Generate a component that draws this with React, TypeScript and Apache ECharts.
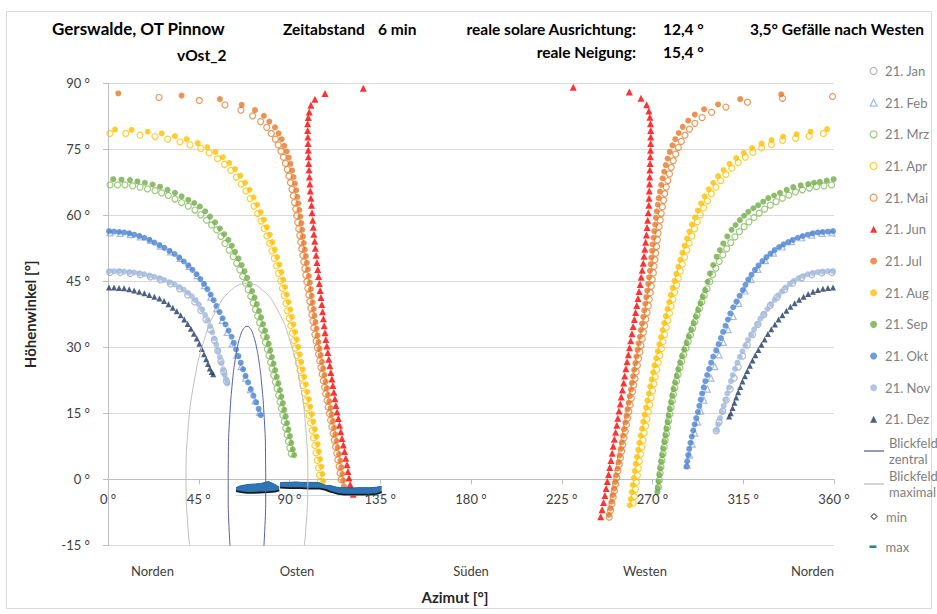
import React, { useEffect, useRef } from "react";
import * as echarts from "echarts";

const FONT = "Lato, 'Noto Sans', sans-serif";

const monthNames = ["21. Jan", "21. Feb", "21. Mrz", "21. Apr", "21. Mai", "21. Jun", "21. Jul", "21. Aug", "21. Sep", "21. Okt", "21. Nov", "21. Dez"];
const compassLabels = ["Norden", "Osten", "Süden", "Westen", "Norden"];

const janLeft = [[1,47.0],[6,47.0],[11,46.8],[16,46.5],[21,46.0],[26,45.3],[31,44.4],[35.5,43.3],[39.5,41.9],[43,40.3],[46,38.4],[48.6,36.3],[50.8,34.0],[52.7,31.6],[54.4,29.2],[56,26.8],[57.4,24.4],[58.8,22.2]];
const janRight = [[359,47.0],[354,46.9],[349,46.5],[344,45.8],[339.5,44.6],[335.5,43.1],[331.8,41.4],[328.4,39.5],[325.2,37.4],[322.3,35.2],[319.6,32.9],[317,30.5],[314.7,28.0],[312.5,25.5],[310.5,23],[308.5,20.5],[306.6,18.0],[304.8,15.5],[303.0,13.0],[301.6,11.0]];

const febLeft = [[1,56.0],[6,55.9],[11,55.6],[16,55.1],[21,54.3],[26,53.0],[31,51.7],[35.8,50.2],[40.2,48.4],[44.2,46.3],[47.8,44.0],[51,41.4],[53.9,38.8],[56.6,36.1],[59.1,33.4],[61.6,30.8],[63.8,28.2],[66,25.6],[68.3,23.0],[70.6,20.4],[72.9,17.8],[75.1,15.2]];
const febRight = [[359,56.0],[354,55.9],[349,55.5],[344,54.9],[339,54.0],[334.3,52.8],[330,51.4],[326,49.7],[322.3,47.7],[318.9,45.4],[315.8,42.8],[312.8,40.0],[310,37.0],[307.5,34.0],[305.2,31.1],[303,28.3],[300.9,25.6],[299,23],[297.2,20.5],[295.5,18],[293.9,15.5],[292.4,13],[291,10.5],[289.7,8],[288.4,5.5],[287.2,3.2]];

const mrzLeft = [[1.0,66.9],[4.7,66.9],[8.4,66.9],[12.2,66.7],[15.9,66.4],[19.6,66.0],[23.3,65.6],[26.6,65.1],[29.9,64.5],[33.2,63.7],[36.5,62.9],[39.8,62.1],[43.1,61.2],[46.0,60.1],[48.9,58.9],[51.4,57.8],[53.9,56.7],[56.0,55.2],[58.0,53.6],[60.1,52.1],[62.1,50.6],[63.8,49.1],[65.4,47.6],[66.8,46.1],[68.2,44.6],[69.5,43.1],[70.8,41.6],[72.0,40.1],[73.1,38.6],[74.2,37.1],[75.2,35.6],[76.2,34.1],[77.2,32.6],[78.1,31.1],[79.0,29.6],[79.8,28.1],[80.6,26.6],[81.4,25.1],[82.2,23.6],[83.0,22.1],[83.8,20.6],[84.6,19.1],[85.3,17.6],[86.0,16.1],[86.7,14.6],[87.4,13.1],[88.1,11.6],[88.8,10.1],[89.5,8.6],[90.2,7.1],[90.9,5.8]];
const mrzRight = [[358.8,66.9],[355.0,66.7],[351.3,66.5],[347.8,66.2],[344.3,65.8],[340.9,65.3],[337.6,64.6],[334.4,63.9],[331.3,63.1],[328.4,62.3],[325.6,61.4],[322.9,60.5],[320.3,59.5],[317.8,58.5],[315.4,57.4],[313.1,56.3],[310.9,55.1],[308.8,53.8],[306.8,52.4],[304.9,51.0],[303.1,49.5],[301.4,48.0],[299.8,46.5],[298.4,44.9],[297.0,43.3],[295.7,41.8],[294.5,40.3],[293.3,38.8],[292.1,37.3],[291.0,35.8],[289.9,34.3],[288.8,32.8],[287.7,31.3],[286.6,29.8],[285.5,28.3],[284.5,26.8],[283.6,25.3],[282.7,23.8],[281.9,22.3],[281.1,20.8],[280.4,19.3],[279.8,17.8],[279.2,16.3],[278.6,14.8],[278.0,13.3],[277.4,11.8],[276.9,10.3],[276.3,8.8],[275.8,7.3],[275.2,5.8],[274.7,4.3],[274.2,2.8],[273.8,1.3],[273.4,-0.2],[273.0,-1.8]];

const aprLeft = [[1.0,78.6],[8.8,78.6],[15.9,78.2],[23.3,77.9],[29.6,77.3],[35.7,76.7],[40.7,76.0],[46.0,75.2],[50.2,74.2],[54.3,72.9],[57.8,71.6],[60.9,70.2],[63.6,68.7],[66.1,67.1],[68.4,65.5],[70.5,63.8],[72.4,62.1],[74.2,60.4],[75.9,58.7],[77.4,57.0],[78.8,55.3],[80.1,53.6],[81.3,51.9],[82.5,50.2],[83.6,48.5],[84.6,46.8],[85.6,45.1],[86.5,43.4],[87.4,41.7],[88.2,40.0],[89.0,38.3],[89.8,36.6],[90.6,34.9],[91.4,33.2],[92.2,31.5],[92.9,29.8],[93.7,28.1],[94.4,26.4],[95.2,24.7],[95.9,23.0],[96.7,21.3],[97.4,19.6],[98.2,17.9],[98.9,16.2],[99.7,14.5],[100.4,12.8],[101.2,11.1],[101.9,9.4],[102.6,7.7],[103.2,6.0],[103.8,4.3],[104.4,2.6],[104.9,0.9],[105.3,-0.6]];
const aprRight = [[354.7,78.6],[347.7,78.0],[341.0,77.5],[334.5,77.0],[329.0,76.1],[324.1,75.3],[319.8,74.3],[316.0,73.2],[312.5,72.0],[309.3,70.7],[306.4,69.3],[303.8,67.9],[301.4,66.4],[299.2,64.9],[297.2,63.3],[295.4,61.7],[293.7,60.1],[292.2,58.5],[290.8,56.9],[289.5,55.3],[288.2,53.7],[287.0,52.1],[285.9,50.5],[284.8,48.9],[283.8,47.3],[282.8,45.7],[281.9,44.1],[281.0,42.5],[280.1,40.9],[279.2,39.3],[278.4,37.7],[277.6,36.1],[276.8,34.5],[276.0,32.9],[275.2,31.3],[274.4,29.7],[273.6,28.1],[272.8,26.5],[272.1,24.9],[271.4,23.3],[270.7,21.7],[270.0,20.1],[269.3,18.5],[268.6,16.9],[267.9,15.3],[267.2,13.7],[266.6,12.1],[265.9,10.5],[265.3,8.9],[264.7,7.3],[264.1,5.7],[263.5,4.1],[263.0,2.5],[262.5,0.9],[262.0,-0.7],[261.5,-2.3],[261.0,-3.9],[260.5,-5.4]];

const maiLeft = [[25.3,86.8],[45.3,86.1],[58.0,85.1],[65.9,83.9],[71.7,82.6],[75.7,81.3],[78.7,80.0],[81.0,78.6],[83.0,77.3],[84.4,76.0],[85.8,74.6],[87.0,73.2],[88.0,71.8],[88.9,70.4],[89.7,68.9],[90.5,67.4],[91.2,65.9],[91.9,64.4],[92.5,62.9],[93.1,61.4],[93.6,59.9],[94.1,58.4],[94.6,56.9],[95.1,55.4],[95.6,53.9],[96.1,52.4],[96.6,50.9],[97.1,49.4],[97.6,47.9],[98.1,46.4],[98.6,44.9],[99.1,43.4],[99.6,41.9],[100.1,40.4],[100.6,38.9],[101.1,37.4],[101.6,35.9],[102.1,34.4],[102.6,32.9],[103.2,31.4],[103.8,29.9],[104.4,28.4],[105.0,26.9],[105.6,25.4],[106.2,23.9],[106.8,22.4],[107.4,20.9],[108.0,19.4],[108.6,17.9],[109.2,16.4],[109.8,14.9],[110.4,13.4],[111.0,11.9],[111.6,10.4],[112.2,8.9],[112.8,7.4],[113.4,5.9],[114.0,4.4],[114.6,2.9],[115.1,1.4],[115.6,-0.1]];
const maiRight = [[359.3,87.0],[334.5,86.6],[317.1,85.7],[306.4,84.6],[299.3,83.4],[294.6,82.2],[291.0,80.9],[288.3,79.6],[286.1,78.2],[284.3,76.8],[282.8,75.4],[281.5,73.9],[280.3,72.4],[279.3,70.9],[278.4,69.4],[277.6,67.9],[276.8,66.4],[276.1,64.9],[275.5,63.4],[274.9,61.9],[274.3,60.4],[273.8,58.9],[273.3,57.4],[272.8,55.9],[272.4,54.4],[272.0,52.9],[271.6,51.4],[271.2,49.9],[270.8,48.4],[270.4,46.9],[269.9,45.4],[269.4,43.9],[268.9,42.4],[268.4,40.9],[267.9,39.4],[267.3,37.9],[266.7,36.4],[266.1,34.9],[265.5,33.4],[264.9,31.9],[264.3,30.4],[263.7,28.9],[263.1,27.4],[262.5,25.9],[261.9,24.4],[261.3,22.9],[260.7,21.4],[260.1,19.9],[259.5,18.4],[258.9,16.9],[258.3,15.4],[257.7,13.9],[257.1,12.4],[256.5,10.9],[255.9,9.4],[255.3,7.9],[254.7,6.4],[254.1,4.9],[253.5,3.4],[252.9,1.9],[252.3,0.4],[251.7,-1.1],[251.1,-2.6],[250.5,-4.1],[249.9,-5.6],[249.2,-7.1],[248.5,-8.6]];

const junLeft = [[126.6,88.9],[107.6,87.7],[102.6,86.4],[100.6,85.0],[99.8,83.5],[99.3,82.2],[99.0,80.8],[99.0,79.3],[99.1,77.8],[99.2,76.3],[99.3,74.8],[99.4,73.3],[99.5,71.8],[99.7,70.3],[99.9,68.7],[100.1,67.1],[100.3,65.5],[100.6,63.9],[100.9,62.3],[101.2,60.6],[101.5,58.9],[101.8,57.3],[102.1,55.7],[102.5,54.1],[102.8,52.5],[103.2,50.9],[103.6,49.3],[104.0,47.7],[104.4,46.1],[104.8,44.5],[105.2,42.9],[105.6,41.3],[106.0,39.7],[106.4,38.1],[106.8,36.5],[107.2,34.9],[107.6,33.3],[108.0,31.8],[108.5,30.3],[109.0,28.8],[109.5,27.3],[110.0,25.8],[110.5,24.3],[111.0,22.8],[111.5,21.3],[112.0,19.8],[112.5,18.3],[113.0,16.8],[113.6,15.3],[114.2,13.8],[114.8,12.3],[115.4,10.8],[116.0,9.3],[116.7,7.8],[117.3,6.3],[117.9,4.8],[118.5,3.3],[119.0,1.8],[119.5,0.3],[120.1,-1.2],[120.8,-2.3],[121.6,-3.4]];
const junRight = [[230.7,89.1],[258.5,88.0],[264.3,86.6],[267.1,85.1],[268.2,83.7],[268.7,82.3],[269.0,80.8],[269.1,79.3],[269.1,77.8],[269.1,76.3],[269.0,74.8],[268.9,73.3],[268.8,71.8],[268.7,70.3],[268.6,68.7],[268.5,67.1],[268.4,65.5],[268.3,63.9],[268.2,62.3],[267.9,60.6],[267.6,58.9],[267.3,57.2],[267.0,55.5],[266.6,53.9],[266.2,52.3],[265.8,50.7],[265.4,49.1],[264.9,47.5],[264.4,45.9],[263.9,44.3],[263.3,42.7],[262.8,41.1],[262.2,39.5],[261.6,37.9],[261.0,36.3],[260.4,34.7],[259.8,33.1],[259.2,31.5],[258.6,29.9],[258.0,28.3],[257.4,26.7],[256.8,25.1],[256.2,23.5],[255.7,21.9],[255.1,20.3],[254.5,18.7],[254.0,17.1],[253.4,15.5],[252.8,13.9],[252.3,12.3],[251.7,10.7],[251.1,9.1],[250.5,7.5],[250.0,5.9],[249.4,4.3],[248.8,2.7],[248.2,1.1],[247.6,-0.5],[247.0,-2.1],[246.4,-3.7],[245.7,-5.3],[245.0,-6.9],[244.3,-8.5]];

const julLeft = [[5.1,87.7],[36.5,87.2],[55.5,86.4],[66.3,85.1],[72.9,83.9],[77.3,82.6],[80.0,81.3],[82.8,80.0],[84.6,78.6],[86.1,77.3],[87.4,75.8],[88.6,74.5],[89.6,73.1],[90.5,71.7],[91.3,70.2],[92.0,68.7],[92.7,67.2],[93.3,65.7],[93.9,64.2],[94.4,62.7],[94.9,61.2],[95.4,59.7],[95.9,58.2],[96.3,56.7],[96.7,55.2],[97.1,53.7],[97.6,52.2],[98.1,50.7],[98.6,49.2],[99.1,47.7],[99.6,46.2],[100.1,44.7],[100.6,43.2],[101.0,41.7],[101.5,40.2],[102.0,38.7],[102.4,37.2],[102.9,35.7],[103.4,34.2],[103.9,32.7],[104.4,31.2],[104.9,29.7],[105.5,28.2],[106.1,26.7],[106.7,25.2],[107.3,23.7],[107.9,22.2],[108.5,20.7],[109.1,19.2],[109.7,17.7],[110.3,16.2],[110.9,14.7],[111.5,13.2],[112.1,11.7],[112.7,10.2],[113.3,8.7],[113.9,7.2],[114.6,5.7],[115.2,4.2],[115.7,2.7],[116.2,1.2],[116.6,-0.3],[117.0,-1.6]];
const julRight = [[333.8,87.5],[313.5,86.4],[302.5,85.2],[295.6,84.1],[291.0,82.9],[287.7,81.5],[285.0,80.1],[283.0,78.7],[281.3,77.3],[279.9,75.9],[278.6,74.4],[277.5,72.9],[276.6,71.4],[275.8,69.9],[275.0,68.4],[274.3,66.9],[273.7,65.4],[273.1,63.9],[272.6,62.4],[272.1,60.9],[271.7,59.4],[271.3,57.9],[270.9,56.4],[270.5,54.9],[270.1,53.4],[269.8,51.9],[269.4,50.4],[269.1,48.9],[268.7,47.4],[268.3,45.9],[267.9,44.4],[267.4,42.9],[266.9,41.4],[266.4,39.9],[265.9,38.4],[265.4,36.9],[264.8,35.4],[264.2,33.9],[263.7,32.4],[263.1,30.9],[262.6,29.4],[262.0,27.9],[261.5,26.4],[260.9,24.9],[260.4,23.4],[259.8,21.9],[259.3,20.4],[258.7,18.9],[258.2,17.4],[257.6,15.9],[257.1,14.4],[256.5,12.9],[255.9,11.4],[255.4,9.9],[254.8,8.4],[254.3,6.9],[253.7,5.4],[253.2,3.9],[252.6,2.4],[252.0,0.9],[251.5,-0.6],[250.9,-2.1],[250.3,-3.6],[249.7,-5.1],[249.1,-6.6],[248.4,-8.1]];

const augLeft = [[3.5,79.5],[11.7,79.4],[19.7,79.0],[26.6,78.6],[33.2,78.0],[39.0,77.3],[44.5,76.4],[49.2,75.5],[53.3,74.4],[56.9,73.2],[60.1,71.9],[63.0,70.5],[65.6,69.0],[68.0,67.4],[70.2,65.8],[72.2,64.1],[74.0,62.4],[75.7,60.7],[77.3,59.0],[78.8,57.3],[80.2,55.6],[81.5,53.9],[82.7,52.2],[83.9,50.5],[85.0,48.8],[86.0,47.1],[86.9,45.4],[87.8,43.7],[88.7,42.0],[89.5,40.3],[90.4,38.6],[91.2,36.9],[92.0,35.2],[92.8,33.5],[93.6,31.8],[94.3,30.1],[95.1,28.4],[95.8,26.7],[96.6,25.0],[97.3,23.3],[98.1,21.6],[98.8,19.9],[99.6,18.2],[100.3,16.5],[101.1,14.8],[101.8,13.1],[102.6,11.4],[103.3,9.7],[104.0,8.0],[104.6,6.3],[105.2,4.6],[105.8,2.9],[106.3,1.2],[106.7,-0.4]];
const augRight = [[356.6,79.6],[348.4,79.0],[341.4,78.4],[334.8,77.9],[329.0,77.1],[324.1,76.3],[319.4,75.3],[315.2,74.2],[311.5,73.0],[308.2,71.7],[305.2,70.3],[302.5,68.9],[300.1,67.4],[297.9,65.9],[295.9,64.3],[294.1,62.7],[292.5,61.1],[291.0,59.5],[289.6,57.9],[288.3,56.3],[287.1,54.7],[285.9,53.1],[284.8,51.5],[283.8,49.9],[282.8,48.3],[281.8,46.7],[280.9,45.1],[280.0,43.5],[279.1,41.9],[278.3,40.3],[277.4,38.7],[276.6,37.1],[275.8,35.5],[275.0,33.9],[274.2,32.3],[273.4,30.7],[272.6,29.1],[271.8,27.5],[271.0,25.9],[270.3,24.3],[269.6,22.7],[268.9,21.1],[268.2,19.5],[267.5,17.9],[266.8,16.3],[266.1,14.7],[265.4,13.1],[264.8,11.5],[264.1,9.9],[263.5,8.3],[262.9,6.7],[262.3,5.1],[261.7,3.5],[261.2,1.9],[260.7,0.3],[260.2,-1.3],[259.7,-2.9],[259.2,-4.5],[258.7,-5.9]];

const sepLeft = [[2.6,68.2],[6.7,68.1],[10.9,68.0],[14.6,67.7],[18.3,67.4],[22.1,67.0],[25.8,66.5],[29.5,65.8],[33.2,65.1],[36.5,64.3],[39.8,63.5],[42.7,62.8],[45.6,62.0],[48.2,60.9],[50.6,59.7],[53.1,58.4],[55.5,57.0],[57.6,55.7],[59.7,54.4],[61.4,53.1],[63.0,51.7],[64.7,50.2],[66.3,48.7],[67.7,47.3],[69.0,45.8],[70.3,44.3],[71.5,42.8],[72.7,41.3],[73.8,39.8],[74.9,38.3],[75.9,36.8],[76.9,35.3],[77.9,33.8],[78.8,32.3],[79.7,30.8],[80.5,29.3],[81.3,27.8],[82.1,26.3],[82.9,24.8],[83.7,23.3],[84.5,21.8],[85.3,20.3],[86.0,18.8],[86.7,17.3],[87.4,15.8],[88.1,14.3],[88.8,12.8],[89.5,11.3],[90.2,9.8],[90.9,8.3],[91.6,6.8],[92.3,5.5]];
const sepRight = [[359.8,68.2],[356.4,67.9],[353.0,67.6],[350.1,67.4],[347.2,67.1],[343.5,66.8],[339.8,66.4],[336.5,65.8],[333.2,65.1],[330.3,64.5],[327.4,63.9],[324.9,63.1],[322.4,62.3],[320.0,61.6],[317.5,60.8],[315.4,59.9],[313.3,58.9],[311.2,57.8],[309.2,56.7],[307.1,55.2],[305.1,53.6],[303.4,52.1],[301.8,50.6],[300.1,48.7],[298.5,46.8],[297.3,44.9],[296.1,43.0],[294.9,41.5],[293.8,40.0],[292.6,38.5],[291.5,37.0],[290.4,35.5],[289.2,34.0],[288.0,32.5],[286.9,31.0],[285.7,29.5],[284.6,28.0],[283.7,26.5],[282.8,25.0],[282.0,23.5],[281.2,22.0],[280.4,20.5],[279.8,19.0],[279.2,17.5],[278.6,16.0],[278.0,14.5],[277.5,13.0],[276.9,11.5],[276.4,10.0],[275.9,8.5],[275.3,7.0],[274.8,5.5],[274.3,4.0],[273.8,2.5],[273.4,1.0],[273.0,-0.5],[272.6,-2.0],[272.4,-2.9]];

const oktLeft = [[0.5,56.4],[3.0,56.3],[5.5,56.2],[8.0,56.1],[10.5,55.9],[13.0,55.6],[15.5,55.3],[18.0,54.9],[20.5,54.4],[23.0,53.8],[25.5,53.2],[28.0,52.6],[30.5,51.9],[33.0,51.2],[35.3,50.4],[37.6,49.5],[39.8,48.6],[41.9,47.6],[43.9,46.6],[45.8,45.5],[47.6,44.4],[49.3,43.2],[50.9,42.0],[52.4,40.7],[53.8,39.4],[55.3,38.0],[56.8,36.6],[58.3,35.2],[59.8,33.8],[61.3,32.4],[62.4,31.0],[63.5,29.5],[64.7,28.0],[65.8,26.5],[67.0,25.0],[68.2,23.5],[69.5,22.0],[70.8,20.5],[72.1,19.0],[73.5,17.5],[74.7,16.0],[75.7,14.6]];
const oktRight = [[359.5,56.4],[357.0,56.3],[354.5,56.2],[352.0,56.1],[349.5,55.9],[347.0,55.6],[344.5,55.3],[342.0,54.9],[339.6,54.4],[337.3,53.9],[335.0,53.4],[332.8,52.8],[330.6,52.1],[328.5,51.3],[326.5,50.5],[324.5,49.6],[322.6,48.6],[320.8,47.6],[319.1,46.5],[317.5,45.4],[316.1,44.2],[314.8,43.0],[313.2,41.7],[311.6,40.4],[310.0,39.1],[308.6,37.7],[307.4,36.3],[306.2,34.9],[305.0,33.5],[303.9,32.1],[302.8,30.7],[301.6,29.3],[300.1,27.9],[299.1,26.5],[298.1,25.1],[297.1,23.7],[296.2,22.3],[295.4,20.9],[294.6,19.5],[293.9,18.1],[293.2,16.7],[292.5,15.3],[291.7,13.9],[290.9,12.5],[290.2,11.1],[289.5,9.7],[288.8,8.3],[288.2,6.9],[287.7,5.5],[287.2,4.1],[286.9,2.9]];

const novLeft = [[0.5,47.3],[3.0,47.3],[5.5,47.3],[8.0,47.2],[10.5,47.1],[13.0,47.0],[15.5,46.8],[18.0,46.6],[20.5,46.3],[23.0,46.0],[25.5,45.7],[28.0,45.3],[30.5,44.8],[33.0,44.3],[35.3,43.7],[37.5,43.1],[39.6,42.4],[41.6,41.6],[43.4,40.7],[45.1,39.7],[46.7,38.6],[48.1,37.4],[49.4,36.1],[50.6,34.8],[51.7,33.4],[52.7,32.0],[53.7,30.6],[54.6,29.2],[55.5,27.8],[56.3,26.4],[57.1,25.0],[57.8,23.8],[58.5,22.8],[59.2,21.8]];
const novRight = [[359.5,47.3],[357.0,47.3],[354.5,47.2],[352.0,47.1],[349.5,46.9],[347.0,46.6],[344.7,46.2],[342.4,45.7],[340.2,45.1],[338.1,44.4],[336.1,43.6],[334.2,42.7],[332.4,41.8],[330.6,40.8],[328.8,39.8],[327.0,38.7],[325.2,37.6],[323.5,36.5],[321.9,35.3],[320.4,34.1],[318.9,32.9],[317.4,31.7],[316.0,30.4],[314.6,29.1],[313.3,27.8],[312.1,26.5],[310.9,25.1],[309.8,23.7],[308.9,22.3],[308.0,20.9],[307.1,19.5],[306.2,18.1],[305.3,16.7],[304.4,15.3],[303.5,13.9],[302.6,12.5],[301.8,11.2]];

const dezLeft = [[0.5,43.6],[3.0,43.6],[5.5,43.5],[8.0,43.4],[10.5,43.2],[13.0,42.9],[15.5,42.6],[18.0,42.3],[20.5,41.9],[23.0,41.5],[25.5,41.1],[27.8,40.5],[30.0,39.8],[32.1,39.0],[34.1,38.2],[36.0,37.3],[37.8,36.3],[39.5,35.3],[41.1,34.2],[42.6,33.1],[44.0,32.0],[45.3,30.8],[46.5,29.6],[47.6,28.4],[48.7,27.3],[49.6,26.2],[50.5,25.2],[51.4,24.4],[52.2,23.9]];
const dezRight = [[359.5,43.6],[357.0,43.5],[354.5,43.3],[352.0,43.0],[349.6,42.6],[347.2,42.1],[344.9,41.5],[342.7,40.8],[340.5,40.0],[338.4,39.2],[336.4,38.3],[334.4,37.3],[332.5,36.3],[330.7,35.2],[328.9,34.1],[327.2,33.0],[325.6,31.8],[324.0,30.6],[322.5,29.4],[321.0,28.2],[319.6,27.0],[318.3,25.8],[317.0,24.6],[315.8,23.4],[314.6,22.2],[313.5,21.0],[312.5,19.8],[311.5,18.6],[310.6,17.4],[309.7,16.2],[308.8,15.0],[308.0,14.3]];

const fovCentral = [[61.24,-19.96],[60.11,-11.9],[59.59,-3.03],[59.69,6.04],[60.43,14.71],[61.74,22.37],[62.89,26.66],[64.22,30.14],[65.7,32.7],[67.27,34.27],[68.9,34.8],[70.53,34.27],[72.1,32.7],[73.58,30.14],[74.91,26.66],[76.06,22.37],[77.37,14.71],[78.11,6.04],[78.21,-3.03],[77.69,-11.9],[76.56,-19.96]];
const fovMaximal = [[41.53,-18.82],[39.73,-11.52],[38.7,0],[39.73,11.52],[42.75,22.25],[47.55,31.47],[53.81,38.54],[61.08,42.98],[68.9,44.5],[76.72,42.98],[83.99,38.54],[90.25,31.47],[95.05,22.25],[98.07,11.52],[99.1,0],[98.07,-11.52],[96.27,-18.82]];

const horizonMaxA = [[63.5,-1.9],[65,-1.6],[66.5,-1.4],[68,-1.3],[69.5,-1.2],[71,-1.1],[72.5,-1.1],[74,-1.0],[75.5,-1.0],[77,-0.8],[78.5,-0.6],[79.5,-0.5],[81,-0.8],[82.5,-1.1],[84,-1.5],[84.9,-1.8]];
const horizonMaxB = [[85.3,-0.8],[87,-0.7],[90,-0.7],[93,-0.6],[96,-0.7],[99,-0.7],[102,-0.7],[105,-0.8],[106.8,-1.2],[108.5,-1.4],[110,-1.4],[111.7,-1.6],[113.5,-1.8],[115,-1.9],[118,-1.9],[121,-2.0],[124,-1.9],[127,-1.9],[130,-1.9],[133,-1.8],[135.7,-1.6]];
const horizonMinA = [[63.5,-2.7],[66,-2.9],[68.8,-3.1],[72,-3.1],[75.4,-3.0],[79.5,-2.9],[82.8,-2.8],[84.9,-2.5]];
const horizonMinB = [[85.3,-1.9],[90,-2.0],[95,-2.0],[100,-2.1],[105,-2.1],[108,-2.4],[110,-2.8],[111.7,-3.0],[114,-3.3],[117,-3.5],[121,-3.5],[125,-3.5],[129,-3.5],[133,-3.4],[135.7,-2.9]];

const degFmt = (v: number) => `${v} °`;

export default function App() {
  const ref = useRef<HTMLDivElement>(null);
  useEffect(() => {
    if (!ref.current) return;
    const chart = echarts.init(ref.current, null, { renderer: "svg" });

    const sc = (name: string, data: number[][], symbol: string, color: string, filled: boolean, size: number) => ({
      type: "scatter",
      name,
      data,
      symbol,
      symbolSize: size,
      itemStyle: filled ? { color } : { color: "rgba(255,255,255,0)", borderColor: color, borderWidth: 1.2 },
    });

    const horizon = (name: string, data: number[][], line: string, fill: string, width: number) => ({
      type: "line",
      name,
      data,
      showSymbol: false,
      symbol: "none",
      lineStyle: { color: line, width },
      itemStyle: { color: name === "max" ? "#1F8A7A" : "#000" },
      areaStyle: { color: fill, opacity: 1, origin: -3.7 },
    });

    const series: any[] = [
      horizon("max", horizonMaxA, "#1F5F9E", "#2E75B6", 1),
      horizon("max", horizonMaxB, "#1F5F9E", "#2E75B6", 1),
      horizon("min", horizonMinA, "#1A1A1A", "#fff", 1.8),
      horizon("min", horizonMinB, "#1A1A1A", "#fff", 1.8),
      { type: "line", name: "Blickfeld maximal", data: fovMaximal, smooth: true, symbol: "none", lineStyle: { color: "#BFBFBF", width: 1 }, itemStyle: { color: "#BFBFBF" } },
      { type: "line", name: "Blickfeld zentral", data: fovCentral, smooth: true, symbol: "none", lineStyle: { color: "#5B5FA8", width: 1 }, itemStyle: { color: "#5B5FA8" } },
      sc(monthNames[0], [...janLeft, ...janRight], "circle", "#A5A5A5", false, 6),
      sc(monthNames[1], [...febLeft, ...febRight], "triangle", "#8FAADC", false, 6),
      sc(monthNames[2], [...mrzLeft, ...mrzRight], "circle", "#82BA5A", false, 6),
      sc(monthNames[3], [...aprLeft, ...aprRight], "circle", "#FFC000", false, 6),
      sc(monthNames[4], [...maiLeft, ...maiRight], "circle", "#E67E30", false, 6),
      sc(monthNames[5], [...junLeft, ...junRight], "triangle", "#FF0000", true, 7),
      sc(monthNames[6], [...julLeft, ...julRight], "circle", "#E5782A", true, 6),
      sc(monthNames[7], [...augLeft, ...augRight], "circle", "#FFC000", true, 6),
      sc(monthNames[8], [...sepLeft, ...sepRight], "circle", "#70AD47", true, 6),
      sc(monthNames[9], [...oktLeft, ...oktRight], "circle", "#4A82CF", true, 6),
      sc(monthNames[10], [...novLeft, ...novRight], "circle", "#9DB8E0", true, 6),
      sc(monthNames[11], [...dezLeft, ...dezRight], "triangle", "#1F3864", true, 6),
    ];

    const legendText = { color: "#7F7F7F", fontSize: 13, fontFamily: FONT, lineHeight: 16 };

    const compassRich = {
      a: { fontSize: 13, fontFamily: FONT, color: "#404040", padding: [0, 0, 0, 23] },
      b: { fontSize: 13, fontFamily: FONT, color: "#404040", padding: [0, 0, 0, 15] },
      c: { fontSize: 13, fontFamily: FONT, color: "#404040", padding: [0, 15, 0, 0] },
      d: { fontSize: 13, fontFamily: FONT, color: "#404040" },
    };
    const compassTok = ["a", "b", "d", "c", "d"];

    const hdr = (text: string, x: number, y: number, size: number, align = "left") => ({
      type: "text",
      x,
      y,
      silent: true,
      style: { text, fill: "#000", font: `bold ${size}px ${FONT}`, textAlign: align, textVerticalAlign: "middle" },
    });

    chart.setOption({
      animation: false,
      backgroundColor: "#fff",
      grid: { left: 108, right: 103, top: 83.3, bottom: 68.7, containLabel: false },
      xAxis: [
        {
          // axis line and ticks on the 0° line
          type: "value",
          min: 0,
          max: 360,
          interval: 45,
          axisLine: { show: true, onZero: true, lineStyle: { color: "#BFBFBF", width: 1 } },
          axisTick: { show: true, length: 5, lineStyle: { color: "#BFBFBF" } },
          axisLabel: { show: false },
          splitLine: { show: false },
        },
        {
          // degree labels, drawn just under the 0° line
          type: "value",
          min: 0,
          max: 360,
          interval: 45,
          position: "bottom",
          z: 20,
          axisLine: { show: false, onZero: false },
          axisTick: { show: false },
          splitLine: { show: false },
          axisLabel: { formatter: degFmt, color: "#404040", fontSize: 13, fontFamily: FONT, margin: -53 },
        },
        {
          type: "value",
          min: 0,
          max: 360,
          interval: 90,
          position: "bottom",
          axisLine: { show: false, onZero: false },
          axisTick: { show: false },
          splitLine: { show: false },
          axisLabel: {
            margin: 19,
            alignMinLabel: "left",
            alignMaxLabel: "right",
            formatter: (v: number) => {
              const i = Math.round(v / 90);
              return `{${compassTok[i]}|${compassLabels[i]}}`;
            },
            rich: compassRich,
          },
          name: "Azimut [°]",
          nameLocation: "middle",
          nameGap: 44,
          nameTextStyle: { fontSize: 15, fontWeight: "bold", color: "#262626", fontFamily: FONT, padding: [0, 32, 0, 0] },
        },
      ],
      yAxis: {
        type: "value",
        min: -15,
        max: 90,
        interval: 15,
        axisLine: { show: true, lineStyle: { color: "#BFBFBF", width: 1 } },
        axisTick: { show: true, length: 5, lineStyle: { color: "#BFBFBF" } },
        axisLabel: { formatter: degFmt, color: "#404040", fontSize: 13, fontFamily: FONT, margin: 18 },
        splitLine: { show: true, lineStyle: { color: "#D9D9D9", width: 1 } },
        name: "Höhenwinkel [°]",
        nameLocation: "middle",
        nameGap: 71,
        nameTextStyle: { fontSize: 15, fontWeight: "bold", color: "#262626", fontFamily: FONT },
      },
      legend: [
        {
          orient: "vertical",
          left: 864.5,
          top: 58,
          itemWidth: 7,
          itemHeight: 7,
          itemGap: 15.67,
          selectedMode: false,
          itemStyle: { borderWidth: 1.2 },
          textStyle: { ...legendText, padding: [0, 0, 0, 3] },
          data: monthNames,
        },
        {
          orient: "vertical",
          left: 859,
          top: 422,
          itemWidth: 20,
          itemHeight: 1.3,
          selectedMode: false,
          formatter: () => "Blickfeld\nzentral",
          textStyle: { ...legendText, lineHeight: 16, padding: [16, 0, 0, 0] },
          data: [{ name: "Blickfeld zentral", icon: "rect" }],
        },
        {
          orient: "vertical",
          left: 859,
          top: 455,
          itemWidth: 20,
          itemHeight: 1.3,
          selectedMode: false,
          formatter: () => "Blickfeld\nmaximal",
          textStyle: { ...legendText, lineHeight: 16, padding: [16, 0, 0, 0] },
          data: [{ name: "Blickfeld maximal", icon: "rect" }],
        },
        {
          orient: "vertical",
          left: 865.5,
          top: 503.5,
          itemWidth: 6,
          itemHeight: 6,
          selectedMode: false,
          textStyle: { ...legendText, padding: [0, 0, 0, 4] },
          data: [{ name: "min", icon: "diamond", itemStyle: { color: "#fff", borderColor: "#000", borderWidth: 1 } }],
        },
        {
          orient: "vertical",
          left: 864.5,
          top: 533.7,
          itemWidth: 7,
          itemHeight: 2.5,
          selectedMode: false,
          textStyle: { ...legendText, padding: [0, 0, 0, 4] },
          data: [{ name: "max", icon: "rect", itemStyle: { color: "#1F8A7A" } }],
        },
      ],
      graphic: [
        { type: "rect", silent: true, z: -10, shape: { x: 6.5, y: 11.5, width: 925, height: 597 }, style: { fill: "none", stroke: "#D9D9D9", lineWidth: 1 } },
        hdr("Gerswalde, OT Pinnow", 52, 28.5, 17),
        hdr("vOst_2", 177, 55, 15.5),
        hdr("Zeitabstand", 283, 28.5, 15.5),
        hdr("6 min", 378, 28.5, 15.5),
        hdr("reale solare Ausrichtung:", 636, 28.5, 15.5, "right"),
        hdr("12,4 °", 663, 28.5, 15.5),
        hdr("3,5° Gefälle nach Westen", 750, 28.5, 15.5),
        hdr("reale Neigung:", 636, 52, 15.5, "right"),
        hdr("15,4 °", 663, 52, 15.5),
      ],
      series,
    });
    return () => chart.dispose();
  }, []);
  return <div ref={ref} style={{ position: "absolute", left: 0, top: 0, width: 937, height: 614 }} />;
}
